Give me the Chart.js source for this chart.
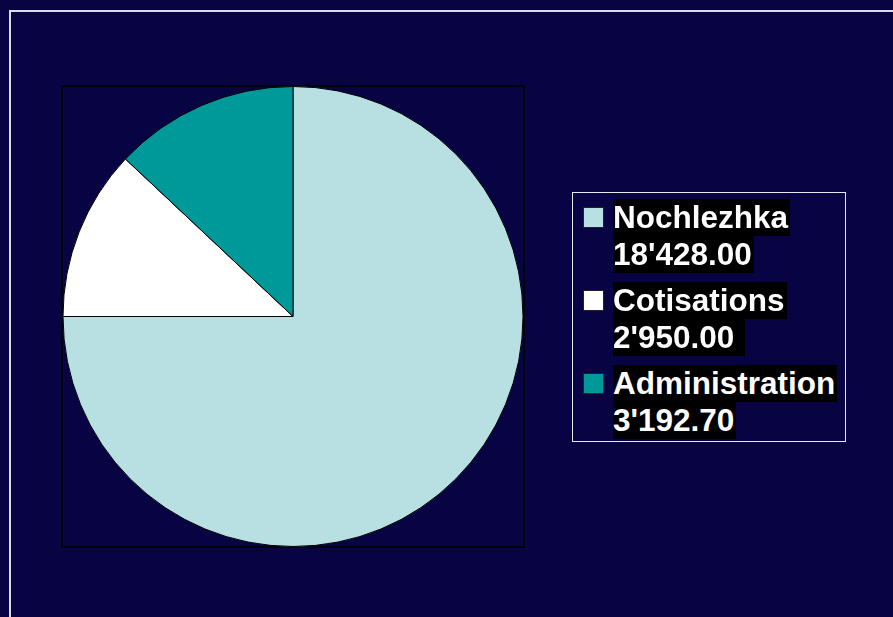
<!DOCTYPE html>
<html>
<head>
<meta charset="utf-8">
<script src="https://cdn.jsdelivr.net/npm/chart.js@4"></script>
<style>
  body { margin: 0; background: #080444; }
  #wrap { position: relative; width: 893px; height: 617px; overflow: hidden; }
  #pieChart { position: absolute; left: 0; top: 0; }
  #legend {
    position: absolute; left: 572px; top: 192px; width: 274px; height: 250px;
    box-sizing: border-box; border: 1px solid #e8e8f0;
    font-family: "Liberation Sans", Arial, sans-serif; font-weight: bold; font-size: 31.5px; color: #fff;
  }
  .item { position: absolute; left: 40px; }
  .item span { display: inline-block; background: #000; line-height: 37px; height: 37px; padding-right: 2px; white-space: pre; }
  .swatch { position: absolute; left: -30px; top: 8px; width: 19px; height: 19px; border: 1px solid #222; }
</style>
</head>
<body>
<div id="wrap">
  <canvas id="pieChart" width="893" height="617"></canvas>
  <div id="legend"></div>
</div>
<script>
// data
const labels = ['Nochlezhka', 'Cotisations', 'Administration'];
const values = [18428.00, 2950.00, 3192.70];
const valueTexts = ["18'428.00", "2'950.00 ", "3'192.70"];
const colors = ['#b8dfe1', '#ffffff', '#009999'];

// background, outer frame and plot box
const framePlugin = {
  id: 'frame',
  beforeDraw(chart) {
    const ctx = chart.ctx;
    const a = chart.chartArea;
    ctx.save();
    ctx.fillStyle = '#080444';
    ctx.fillRect(0, 0, chart.width, chart.height);
    ctx.strokeStyle = '#dcdce6';
    ctx.lineWidth = 2;
    ctx.strokeRect(10, 11, chart.width + 20, chart.height + 20);
    ctx.strokeStyle = '#000';
    ctx.lineWidth = 1.5;
    ctx.strokeRect(a.left, a.top, a.right - a.left, a.bottom - a.top);
    ctx.restore();
  }
};

const pieCtx = document.getElementById('pieChart').getContext('2d');
const pieChart = new Chart(pieCtx, {
  type: 'pie',
  data: {
    labels: labels,
    datasets: [{
      data: values,
      backgroundColor: colors,
      borderColor: '#000',
      borderWidth: 1
    }]
  },
  options: {
    responsive: false,
    animation: false,
    layout: { padding: { left: 62, top: 86, right: 369, bottom: 70 } },
    plugins: {
      legend: { display: false },
      tooltip: { enabled: false }
    }
  },
  plugins: [framePlugin]
});

// HTML legend
const legendEl = document.getElementById('legend');
labels.forEach((name, i) => {
  const item = document.createElement('div');
  item.className = 'item';
  item.style.top = (6 + i * 83) + 'px';
  item.innerHTML = '<div class="swatch" style="background:' + colors[i] + '"></div>' +
    '<span>' + name + '</span><br><span>' + valueTexts[i] + '</span>';
  legendEl.appendChild(item);
});
</script>
</body>
</html>
